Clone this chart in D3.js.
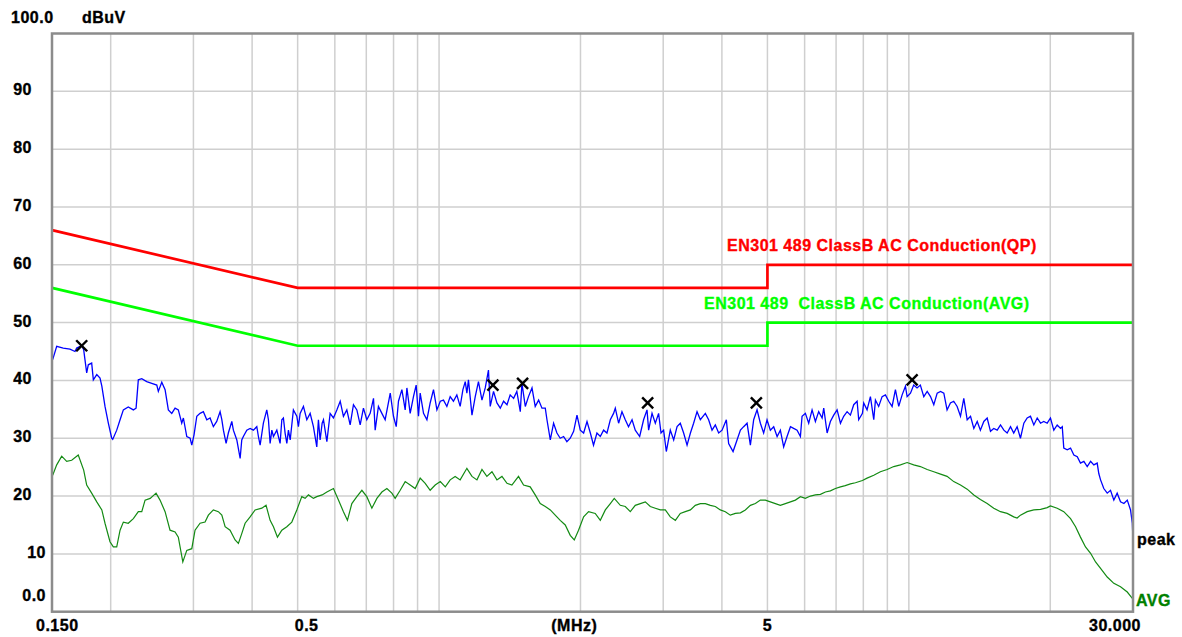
<!DOCTYPE html>
<html>
<head>
<meta charset="utf-8">
<script src="https://cdn.jsdelivr.net/npm/d3@7"></script>
<style>
  body { margin: 0; background: #ffffff; }
  text { font-family: "Liberation Sans", Arial, sans-serif; font-weight: bold; font-size: 16px; letter-spacing: 0.5px; stroke-width: 0.35px; }
</style>
</head>
<body>
<div id="chart"></div>
<script>

// frequency in MHz, level in dBuV
var peakTrace = [
  [0.1505,43.6],[0.1535,45.9],[0.1585,45.6],[0.1638,45.4],[0.1679,45.0],[0.1693,45.6],[0.1735,46.0],[0.1752,45.3],
  [0.1763,43.6],[0.1778,41.3],[0.1792,42.7],[0.1822,43.0],[0.1837,40.1],[0.1868,41.0],[0.1898,40.4],[0.1915,39.0],
  [0.1945,35.5],[0.1977,32.6],[0.2010,30.0],[0.2020,29.8],[0.2060,31.4],[0.2094,33.2],[0.2128,34.9],[0.2180,35.4],
  [0.2235,34.9],[0.2265,35.2],[0.2290,40.1],[0.2329,40.3],[0.2386,39.8],[0.2446,39.5],[0.2507,39.2],[0.2526,38.1],
  [0.2569,39.7],[0.2611,38.4],[0.2653,34.9],[0.2698,34.3],[0.2742,35.2],[0.2786,34.9],[0.2833,32.6],[0.2856,33.5],
  [0.2904,30.3],[0.2952,30.0],[0.2976,28.8],[0.3009,30.6],[0.3050,33.8],[0.3099,34.3],[0.3150,34.6],[0.3203,33.2],
  [0.3255,33.5],[0.3308,32.0],[0.3363,32.9],[0.3419,34.6],[0.3448,33.2],[0.3475,31.4],[0.3521,29.1],[0.3560,30.9],
  [0.3621,32.9],[0.3649,31.4],[0.3711,29.7],[0.3772,26.5],[0.3802,29.7],[0.3832,30.3],[0.3897,31.4],[0.3961,31.7],
  [0.4025,31.4],[0.4093,32.0],[0.4125,30.3],[0.4160,28.8],[0.4227,32.6],[0.4298,34.9],[0.4333,33.2],[0.4369,29.1],
  [0.4406,31.4],[0.4441,30.3],[0.4515,31.4],[0.4588,29.1],[0.4627,33.2],[0.4663,33.5],[0.4702,30.9],[0.4742,29.1],
  [0.4779,31.4],[0.4821,29.7],[0.4897,34.9],[0.4980,33.8],[0.5019,32.0],[0.5061,34.3],[0.5144,35.5],[0.5230,33.2],
  [0.5316,34.3],[0.5402,32.0],[0.5492,28.5],[0.5536,33.2],[0.5582,29.7],[0.5638,32.6],[0.5675,33.2],[0.5770,29.4],
  [0.5863,34.3],[0.5959,33.5],[0.6059,34.9],[0.6160,36.4],[0.6258,33.8],[0.6363,34.9],[0.6468,32.3],[0.6573,35.8],
  [0.6684,34.9],[0.6793,32.3],[0.6903,35.2],[0.7018,33.2],[0.7134,34.3],[0.7252,36.9],[0.7311,31.4],[0.7429,35.5],
  [0.7556,34.3],[0.7678,33.2],[0.7872,37.8],[0.7997,33.8],[0.8106,32.0],[0.8196,36.4],[0.8334,38.4],[0.8470,34.9],
  [0.8541,38.7],[0.8680,34.3],[0.8821,37.2],[0.8938,39.2],[0.9041,33.8],[0.9116,37.8],[0.9267,34.3],[0.9422,33.2],
  [0.9573,36.1],[0.9731,38.4],[0.9895,34.9],[1.006,36.4],[1.022,36.6],[1.039,35.5],[1.056,37.2],[1.073,36.4],
  [1.091,37.5],[1.109,35.5],[1.124,38.4],[1.137,39.8],[1.146,37.8],[1.155,40.1],[1.175,34.0],[1.194,37.2],
  [1.213,39.8],[1.234,36.6],[1.254,38.7],[1.274,41.8],[1.285,35.5],[1.306,38.1],[1.328,36.1],[1.350,35.2],
  [1.372,36.4],[1.395,35.8],[1.417,37.5],[1.441,36.9],[1.464,38.1],[1.489,34.6],[1.501,39.5],[1.526,35.5],
  [1.550,37.2],[1.577,38.7],[1.602,35.5],[1.629,36.6],[1.656,35.2],[1.683,35.2],[1.697,33.2],[1.725,29.7],
  [1.753,32.6],[1.782,30.9],[1.811,30.0],[1.841,30.3],[1.871,29.4],[1.902,30.0],[1.934,31.2],[1.966,34.0],
  [1.998,31.4],[2.031,30.9],[2.065,32.9],[2.099,30.9],[2.132,28.8],[2.168,30.9],[2.204,30.3],[2.240,31.4],
  [2.277,30.9],[2.315,33.2],[2.352,34.3],[2.372,35.2],[2.411,32.6],[2.451,34.6],[2.491,33.2],[2.531,32.0],
  [2.575,33.2],[2.616,31.4],[2.673,30.3],[2.725,33.2],[2.771,34.9],[2.793,31.4],[2.840,34.3],[2.886,32.6],
  [2.933,34.3],[2.968,30.9],[3.006,31.4],[3.046,27.7],[3.106,31.4],[3.158,29.7],[3.211,32.0],[3.262,32.6],
  [3.316,30.9],[3.372,28.8],[3.428,30.9],[3.482,32.6],[3.541,34.6],[3.599,33.2],[3.688,34.3],[3.748,33.2],
  [3.811,31.4],[3.873,32.3],[3.937,30.9],[4.003,31.4],[4.088,33.2],[4.134,29.1],[4.225,27.7],[4.308,29.7],
  [4.380,31.4],[4.450,32.0],[4.525,32.6],[4.599,28.8],[4.674,33.2],[4.752,34.9],[4.830,32.6],[4.908,30.9],
  [4.990,33.2],[5.072,31.4],[5.156,32.0],[5.243,30.3],[5.327,31.4],[5.414,28.5],[5.505,30.3],[5.597,32.0],
  [5.686,31.7],[5.782,31.4],[5.877,30.3],[5.925,33.8],[6.022,34.3],[6.121,32.6],[6.223,34.9],[6.325,32.9],
  [6.428,34.6],[6.537,33.5],[6.589,35.2],[6.699,30.9],[6.807,32.9],[6.919,34.0],[7.035,34.9],[7.152,32.6],
  [7.266,33.8],[7.388,34.6],[7.509,34.0],[7.632,35.8],[7.760,36.4],[7.821,33.2],[7.965,34.3],[8.015,36.1],
  [8.148,34.9],[8.283,37.2],[8.420,33.2],[8.489,36.6],[8.625,35.5],[8.772,37.2],[8.915,37.5],[9.061,36.4],
  [9.212,35.5],[9.363,38.4],[9.516,35.5],[9.676,37.5],[9.834,39.0],[9.916,37.2],[10.08,37.8],[10.24,39.2],
  [10.41,38.7],[10.58,39.2],[10.76,37.2],[10.94,38.1],[11.12,37.2],[11.30,35.8],[11.49,37.8],[11.68,38.1],
  [11.87,37.8],[12.06,34.9],[12.26,36.1],[12.46,36.4],[12.67,35.5],[12.88,33.8],[13.09,36.9],[13.31,33.2],
  [13.53,33.8],[13.75,31.7],[13.98,32.9],[14.20,31.4],[14.44,32.9],[14.68,33.5],[14.92,31.2],[15.16,31.7],
  [15.42,31.4],[15.67,32.3],[15.93,31.4],[16.19,30.9],[16.46,32.0],[16.72,30.9],[17.00,32.0],[17.28,30.0],
  [17.57,32.6],[17.86,33.5],[18.15,33.8],[18.45,32.3],[18.76,33.5],[19.07,32.6],[19.37,32.9],[19.70,32.6],
  [20.02,33.5],[20.35,31.4],[20.69,32.3],[21.03,31.7],[21.21,32.0],[21.37,28.3],[21.73,28.0],[22.09,28.3],
  [22.45,27.1],[22.83,26.8],[23.19,25.7],[23.58,26.0],[23.97,25.1],[24.37,26.0],[24.76,25.4],[25.17,25.7],
  [25.37,23.9],[25.59,22.8],[26.00,21.3],[26.44,20.5],[26.87,21.0],[27.31,19.3],[27.76,20.5],[28.22,19.0],
  [28.69,18.7],[29.17,19.3],[29.64,17.6],[29.90,15.3],[30.0,12.4]
];

var avgTrace = [
  [0.1505,23.6],[0.1535,25.4],[0.1573,26.9],[0.1612,26.0],[0.1652,26.2],[0.1706,27.1],[0.1752,24.5],[0.1778,21.9],
  [0.1822,20.5],[0.1868,19.0],[0.1915,17.6],[0.1945,15.3],[0.1993,12.1],[0.2026,11.2],[0.2060,11.2],[0.2094,14.1],
  [0.2128,15.5],[0.2180,15.3],[0.2235,16.1],[0.2290,17.3],[0.2329,17.3],[0.2367,19.3],[0.2427,19.6],[0.2498,20.5],
  [0.2547,19.3],[0.2611,17.3],[0.2675,14.1],[0.2742,13.8],[0.2786,12.9],[0.2848,8.6],[0.2904,10.6],[0.2976,10.9],
  [0.3024,14.1],[0.3099,15.3],[0.3176,15.5],[0.3228,16.7],[0.3308,17.6],[0.3390,17.3],[0.3448,16.7],[0.3504,14.7],
  [0.3590,14.1],[0.3680,12.4],[0.3740,11.8],[0.3802,13.5],[0.3865,15.3],[0.3961,16.4],[0.4059,17.6],[0.4195,17.9],
  [0.4283,18.4],[0.4369,15.8],[0.4441,14.7],[0.4529,12.9],[0.4627,14.1],[0.4742,14.7],[0.4859,15.5],[0.4980,17.6],
  [0.5103,19.9],[0.5187,19.6],[0.5272,20.2],[0.5402,19.6],[0.5492,19.9],[0.5638,20.2],[0.5770,20.7],[0.5959,21.3],
  [0.6107,19.3],[0.6258,17.3],[0.6382,15.8],[0.6521,18.7],[0.6684,19.9],[0.6850,21.0],[0.7018,19.9],[0.7194,17.9],
  [0.7373,19.6],[0.7556,20.7],[0.7743,21.3],[0.7934,20.5],[0.8064,19.6],[0.8265,21.0],[0.8470,22.5],[0.8680,21.9],
  [0.8896,21.3],[0.9116,23.1],[0.9343,22.2],[0.9573,21.0],[0.9812,21.9],[1.006,22.5],[1.031,21.6],[1.056,22.8],
  [1.082,23.4],[1.109,22.8],[1.146,24.8],[1.175,23.4],[1.204,22.8],[1.234,24.6],[1.264,23.4],[1.296,24.2],
  [1.328,22.8],[1.361,23.4],[1.395,22.2],[1.429,21.9],[1.476,23.4],[1.513,21.9],[1.563,21.6],[1.602,20.2],
  [1.642,18.7],[1.683,18.2],[1.725,17.6],[1.767,16.7],[1.811,15.8],[1.856,15.0],[1.902,13.2],[1.940,12.4],
  [1.981,14.1],[2.031,16.4],[2.081,17.3],[2.150,17.0],[2.204,15.8],[2.259,17.6],[2.315,18.7],[2.360,19.6],
  [2.431,18.4],[2.491,18.2],[2.553,17.3],[2.616,18.4],[2.682,18.7],[2.748,19.0],[2.816,18.2],[2.886,17.9],
  [2.958,17.6],[3.031,17.6],[3.106,16.4],[3.184,15.8],[3.262,17.0],[3.343,17.3],[3.428,17.6],[3.511,18.4],
  [3.599,18.7],[3.688,18.7],[3.780,18.4],[3.873,18.2],[3.969,17.6],[4.068,17.3],[4.168,16.7],[4.272,17.0],
  [4.380,17.1],[4.487,17.6],[4.599,18.4],[4.713,18.7],[4.830,19.3],[4.950,19.3],[5.072,19.0],[5.199,18.7],
  [5.327,18.4],[5.459,18.7],[5.597,19.0],[5.734,19.3],[5.877,19.9],[6.022,19.6],[6.172,20.0],[6.325,20.2],
  [6.482,20.3],[6.643,20.7],[6.807,20.9],[6.976,21.3],[7.152,21.6],[7.323,21.8],[7.509,22.1],[7.696,22.3],
  [7.965,22.7],[8.148,23.1],[8.420,23.6],[8.698,24.2],[8.990,24.6],[9.285,25.1],[9.596,25.4],[9.916,25.8],
  [10.24,25.4],[10.58,25.1],[10.94,24.6],[11.30,24.2],[11.68,23.8],[12.06,23.4],[12.46,22.5],[12.88,21.9],
  [13.31,21.2],[13.75,20.2],[14.20,19.4],[14.68,18.7],[15.16,17.9],[15.67,17.3],[16.19,17.0],[16.72,16.4],
  [17.00,16.2],[17.28,16.7],[17.86,17.3],[18.45,17.6],[19.07,17.7],[19.70,18.0],[20.02,18.3],[20.69,17.9],
  [21.37,17.3],[22.09,16.1],[22.64,14.7],[23.19,12.9],[23.77,11.2],[24.37,10.1],[24.97,8.6],[25.59,7.5],
  [26.44,6.0],[27.31,4.9],[28.22,4.3],[29.17,3.4],[29.90,2.3],[30.0,2.2]
];

// limit lines
var qpLimit = [[0.15, 66], [0.5, 56], [5, 56], [5, 60], [30, 60]];
var avgLimit = [[0.15, 56], [0.5, 46], [5, 46], [5, 50], [30, 50]];

// marked peaks
var markers = [[0.1735, 46.0], [1.302, 39.2], [1.506, 39.5], [2.780, 36.1], [4.736, 36.1], [10.16, 40.1]];

var xGrid = [0.2, 0.3, 0.4, 0.5, 0.6, 0.7, 0.8, 0.9, 1, 2, 3, 4, 5, 6, 7, 8, 9, 10, 20];
var yGrid = [10, 20, 30, 40, 50, 60, 70, 80, 90];
var xTicks = [0.15, 0.5, 5, 30];
var xTickLabels = ["0.150", "0.5", "5", "30.000"];
var yTicks = [90, 80, 70, 60, 50, 40, 30, 20, 10, 0];
var yTickLabels = ["90", "80", "70", "60", "50", "40", "30", "20", "10", "0.0"];

var svgWidth = 1182;
var svgHeight = 637;

var svg = d3.select("#chart")
  .append("svg")
  .attr("width", svgWidth)
  .attr("height", svgHeight)
  .style("display", "block");

svg.append("rect")
  .attr("width", svgWidth)
  .attr("height", svgHeight)
  .attr("fill", "#ffffff");

var x = d3.scaleLog().domain([0.15, 30]).range([52, 1133]);
var y = d3.scaleLinear().domain([0, 100]).range([611.7, 33.5]);

// grid
svg.append("g").selectAll("line")
  .data(xGrid)
  .enter()
  .append("line")
  .attr("x1", d => x(d)).attr("x2", d => x(d))
  .attr("y1", y(100)).attr("y2", y(0))
  .attr("stroke", "#cfcfcf")
  .attr("stroke-width", 1.5);

svg.append("g").selectAll("line")
  .data(yGrid)
  .enter()
  .append("line")
  .attr("x1", x(0.15)).attr("x2", x(30))
  .attr("y1", d => y(d)).attr("y2", d => y(d))
  .attr("stroke", "#cfcfcf")
  .attr("stroke-width", 1.5);

var line = d3.line()
  .x(d => x(d[0]))
  .y(d => y(d[1]));

// limits
svg.append("path")
  .datum(qpLimit)
  .attr("d", line)
  .attr("fill", "none")
  .attr("stroke", "#ff0000")
  .attr("stroke-width", 2.7);

svg.append("path")
  .datum(avgLimit)
  .attr("d", line)
  .attr("fill", "none")
  .attr("stroke", "#00ff00")
  .attr("stroke-width", 2.7);

// traces
svg.append("path")
  .datum(avgTrace)
  .attr("d", line)
  .attr("fill", "none")
  .attr("stroke", "#138a13")
  .attr("stroke-width", 1.2);

svg.append("path")
  .datum(peakTrace)
  .attr("d", line)
  .attr("fill", "none")
  .attr("stroke", "#0000ff")
  .attr("stroke-width", 1.3);

// markers
var markGroup = svg.append("g")
  .attr("stroke", "#000000")
  .attr("stroke-width", 2.4);

markers.forEach(function(m) {
  var cx = x(m[0]), cy = y(m[1]);
  markGroup.append("line").attr("x1", cx - 5.5).attr("y1", cy - 5.5).attr("x2", cx + 5.5).attr("y2", cy + 5.5);
  markGroup.append("line").attr("x1", cx - 5.5).attr("y1", cy + 5.5).attr("x2", cx + 5.5).attr("y2", cy - 5.5);
});

// frame
svg.append("rect")
  .attr("x", x(0.15))
  .attr("y", y(100))
  .attr("width", x(30) - x(0.15))
  .attr("height", y(0) - y(100))
  .attr("fill", "none")
  .attr("stroke", "#8c8c8c")
  .attr("stroke-width", 2.5);

// y labels
var labels = svg.append("g").attr("fill", "#000000").attr("stroke", "#000000");

labels.append("text").attr("x", 11).attr("y", 23).text("100.0");
labels.append("text").attr("x", 82).attr("y", 23).text("dBuV");

labels.append("g").selectAll("text")
  .data(yTicks)
  .enter()
  .append("text")
  .attr("text-anchor", "end")
  .attr("x", d => d >= 20 ? 32 : 46)
  .attr("y", d => d === 0 ? y(d) - 11 : y(d) + 4)
  .text((d, i) => yTickLabels[i]);

// x labels
labels.append("g").selectAll("text")
  .data(xTicks)
  .enter()
  .append("text")
  .attr("x", (d, i) => i === 0 ? 36 : (i === 3 ? 1141 : x(d) + (i === 1 ? 9 : 0)))
  .attr("y", 631)
  .attr("text-anchor", (d, i) => i === 0 ? "start" : (i === 3 ? "end" : "middle"))
  .text((d, i) => xTickLabels[i]);

labels.append("text")
  .attr("x", x(1.94))
  .attr("y", 631)
  .attr("text-anchor", "middle")
  .text("(MHz)");

// limit names
svg.append("text")
  .attr("x", 727).attr("y", 251)
  .attr("fill", "#ff0000")
  .attr("stroke", "#ff0000")
  .text("EN301 489 ClassB AC Conduction(QP)");

svg.append("text")
  .attr("x", 704).attr("y", 309)
  .attr("fill", "#00ff00")
  .attr("stroke", "#00ff00")
  .style("white-space", "pre")
  .text("EN301 489  ClassB AC Conduction(AVG)");

// trace names
labels.append("text").attr("x", 1137).attr("y", 545).text("peak");
svg.append("text").attr("x", 1136).attr("y", 606)
  .attr("fill", "#008000").attr("stroke", "#008000").text("AVG");

</script>
</body>
</html>
